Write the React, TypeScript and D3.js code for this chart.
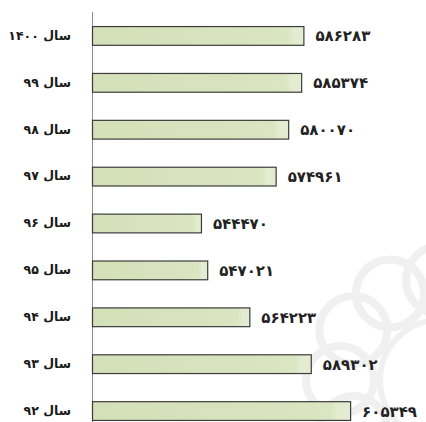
import React, { useRef, useEffect } from 'react';
import * as d3 from 'd3';

const years = ['۱۴۰۰', '۹۹', '۹۸', '۹۷', '۹۶', '۹۵', '۹۴', '۹۳', '۹۲'];
const values = [586283, 585374, 580070, 574961, 544470, 547021, 564223, 589302, 605349];

const toPersian = (s: string) => s.replace(/\d/g, (d) => '۰۱۲۳۴۵۶۷۸۹'[+d]);

const width = 426;
const height = 422;

const App: React.FC = () => {
  const svgRef = useRef<SVGSVGElement>(null);

  useEffect(() => {
    if (!svgRef.current) return;
    const svg = d3.select(svgRef.current);
    svg.selectAll('*').remove();

    const data = years.map((y, i) => ({ label: `سال ${y}`, value: values[i] }));

    const x = d3.scaleLinear().domain([500000, 620000]).range([92, 386]);
    const y = d3
      .scaleBand<string>()
      .domain(data.map((d) => d.label))
      .range([12, 434])
      .paddingInner(0.6)
      .paddingOuter(0.3);

    // bar gradient
    const defs = svg.append('defs');
    const grad = defs
      .append('linearGradient')
      .attr('id', 'barFill')
      .attr('x1', '0%')
      .attr('x2', '100%');
    grad.append('stop').attr('offset', '0%').attr('stop-color', '#d4e0b7');
    grad.append('stop').attr('offset', '92%').attr('stop-color', '#dae5c1');
    grad.append('stop').attr('offset', '95%').attr('stop-color', '#e3ebd0');
    grad.append('stop').attr('offset', '100%').attr('stop-color', '#e3ebd0');

    // faint watermark ornament
    const wm = svg.append('g').attr('fill', 'none').attr('stroke', '#f0f0f0').attr('stroke-width', 8);
    const cx = 440;
    const cy = 380;
    d3.range(12).forEach((i) => {
      const a = (i / 12) * 2 * Math.PI;
      wm.append('circle')
        .attr('cx', cx + Math.cos(a) * 100)
        .attr('cy', cy + Math.sin(a) * 100)
        .attr('r', 34);
    });
    wm.append('circle').attr('cx', cx).attr('cy', cy).attr('r', 60).attr('stroke-width', 6);

    // axis line
    svg
      .append('line')
      .attr('x1', 92.5)
      .attr('x2', 92.5)
      .attr('y1', 12)
      .attr('y2', height)
      .attr('stroke', '#8c8c8c')
      .attr('stroke-width', 1);

    const rows = svg
      .selectAll('.row')
      .data(data)
      .enter()
      .append('g')
      .attr('class', 'row');

    rows
      .append('rect')
      .attr('x', x(500000) + 0.5)
      .attr('y', (d) => (y(d.label) as number) + 0.5)
      .attr('width', (d) => x(d.value) - x(500000))
      .attr('height', y.bandwidth())
      .attr('fill', 'url(#barFill)')
      .attr('stroke', '#3c3c3c')
      .attr('stroke-width', 1.2);

    rows
      .append('text')
      .attr('x', 71)
      .attr('y', (d) => (y(d.label) as number) + y.bandwidth() / 2)
      .attr('dy', '0.35em')
      .attr('text-anchor', 'end')
      .attr('font-family', 'DejaVu Sans')
      .attr('font-weight', 'bold')
      .attr('font-size', 12.5)
      .attr('fill', '#1a1a1a')
      .text((d) => d.label);

    rows
      .append('text')
      .attr('x', (d) => x(d.value) + 12)
      .attr('y', (d) => (y(d.label) as number) + y.bandwidth() / 2)
      .attr('dy', '0.4em')
      .attr('text-anchor', 'start')
      .attr('font-family', 'DejaVu Sans')
      .attr('font-weight', 'bold')
      .attr('font-size', 15)
      .attr('fill', '#222')
      .text((d) => toPersian(String(d.value)));
  }, []);

  return (
    <div style={{ position: 'absolute', left: 0, top: 0 }}>
      <svg ref={svgRef} width={width} height={height} style={{ display: 'block', background: '#fff' }} />
    </div>
  );
};

export default App;
